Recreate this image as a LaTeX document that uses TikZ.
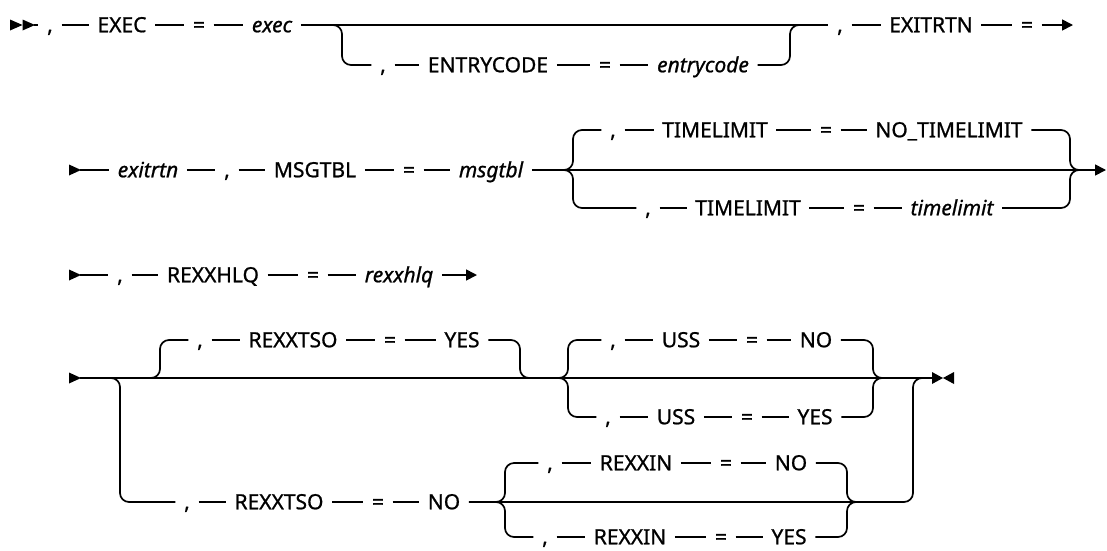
\documentclass[tikz,border=0pt]{standalone}
\usepackage{fontspec}
\setmainfont{Noto Sans}
\newfontfamily\tokfont{Noto Sans}[FakeBold=0.9]
\usetikzlibrary{arrows.meta}
\begin{document}
\begin{tikzpicture}[x=1pt,y=-1pt,
  tok/.style={inner xsep=8.5pt, inner ysep=0pt, text height=14.5pt, text depth=0pt, font=\tokfont\fontsize{21}{24}\selectfont},
  var/.style={tok, font=\tokfont\fontsize{21}{24}\selectfont\itshape},
  ln/.style={line width=1.7pt},
  br/.style={ln, rounded corners=9pt},
  arr/.style={ln, -{Triangle[length=11pt,width=11pt]}},
  ]
\useasboundingbox (0,0) rectangle (1107,550);

% ---------- Row 1 ----------
\fill (10,19.5) -- (22.5,25) -- (10,30.5) -- cycle;
\fill (22.5,19.5) -- (35,25) -- (22.5,30.5) -- cycle;
\coordinate (s1e) at (34,25);
\node[tok] (c1) at (50,25) {,};
\node[tok] (k1) at (122,25) {EXEC};
\node[tok] (e1) at (199,25) {=};
\node[var] (v1) at (272,25) {exec};
\node[tok] (c2) at (383,65) {,};
\node[tok] (k2) at (488,65) {ENTRYCODE};
\node[tok] (e2) at (605,65) {=};
\node[var] (v2) at (703,65) {entrycode};
\node[tok] (c3) at (840,25) {,};
\node[tok] (k3) at (931,25) {EXITRTN};
\node[tok] (e3) at (1027,25) {=};
\coordinate (a1) at (1073,25);
\coordinate (j1) at (320,25);
\coordinate (d1) at (342,65);
\coordinate (u1) at (790,25);
\coordinate (j2) at (812,25);
\draw[ln] (s1e) -- (c1);
\draw[ln] (c1) -- (k1);
\draw[ln] (k1) -- (e1);
\draw[ln] (e1) -- (v1);
\draw[ln] (v1) -- (c3);
\draw[br] (j1) -| (d1) -- (c2);
\draw[ln] (c2) -- (k2);
\draw[ln] (k2) -- (e2);
\draw[ln] (e2) -- (v2);
\draw[br] (v2) -| (u1) -- (j2);
\draw[ln] (c3) -- (k3);
\draw[ln] (k3) -- (e3);
\draw[arr] (e3) -- (a1);

% ---------- Row 2 ----------
\fill (69,164.5) -- (81,170) -- (69,175.5) -- cycle;
\coordinate (s2e) at (80,170);
\node[var] (v3) at (148,170) {exitrtn};
\node[tok] (c4) at (227,170) {,};
\node[tok] (k4) at (315,170) {MSGTBL};
\node[tok] (e4) at (409,170) {=};
\node[var] (v4) at (491,170) {msgtbl};
\node[tok] (c5) at (613,130) {,};
\node[tok] (k5) at (715,130) {TIMELIMIT};
\node[tok] (e5) at (826,130) {=};
\node[tok] (k6) at (949,130) {NO\_TIMELIMIT};
\node[tok] (c6) at (648,208) {,};
\node[tok] (k7) at (748,208) {TIMELIMIT};
\node[tok] (e6) at (859,208) {=};
\node[var] (v5) at (952,208) {timelimit};
\coordinate (a2) at (1106,170);
\coordinate (b2l) at (558,170);
\coordinate (b2t) at (573,130);
\coordinate (b2b) at (573,208);
\coordinate (b2r) at (1070,170);
\coordinate (b2e) at (1086,170);
\draw[ln] (s2e) -- (v3);
\draw[ln] (v3) -- (c4);
\draw[ln] (c4) -- (k4);
\draw[ln] (k4) -- (e4);
\draw[ln] (e4) -- (v4);
\draw[arr] (v4) -- (a2);
\draw[br] (b2l) -| (b2t) -- (c5);
\draw[br] (b2l) -| (b2b) -- (c6);
\draw[ln] (c5) -- (k5);
\draw[ln] (k5) -- (e5);
\draw[ln] (e5) -- (k6);
\draw[br] (k6) -| (b2r) -- (b2e);
\draw[ln] (c6) -- (k7);
\draw[ln] (k7) -- (e6);
\draw[ln] (e6) -- (v5);
\draw[br] (v5) -| (b2r) -- (b2e);

% ---------- Row 3 ----------
\fill (69,269.5) -- (81,275) -- (69,280.5) -- cycle;
\coordinate (s3e) at (80,275);
\node[tok] (c7) at (120,275) {,};
\node[tok] (k8) at (213,275) {REXXHLQ};
\node[tok] (e7) at (313,275) {=};
\node[var] (v6) at (399,275) {rexxhlq};
\coordinate (a3) at (477,275);
\draw[ln] (s3e) -- (c7);
\draw[ln] (c7) -- (k8);
\draw[ln] (k8) -- (e7);
\draw[ln] (e7) -- (v6);
\draw[arr] (v6) -- (a3);

% ---------- Row 4 ----------
\fill (69,372.5) -- (81,378) -- (69,383.5) -- cycle;
\fill (932,372) -- (943,378) -- (932,384) -- cycle;
\fill (954,372) -- (943,378) -- (954,384) -- cycle;
\coordinate (s4e) at (80,378);
\coordinate (end4) at (933,378);
\draw[ln] (s4e) -- (end4);
% REXXTSO = YES (default, above)
\coordinate (m1) at (144,378);
\coordinate (t1) at (160,340);
\coordinate (t2) at (520,378);
\coordinate (m2) at (536,378);
\node[tok] (c8) at (200,340) {,};
\node[tok] (k9) at (293,340) {REXXTSO};
\node[tok] (e8) at (390,340) {=};
\node[tok] (k10) at (462,340) {YES};
\draw[br] (m1) -| (t1) -- (c8);
\draw[ln] (c8) -- (k9);
\draw[ln] (k9) -- (e8);
\draw[ln] (e8) -- (k10);
\draw[br] (k10) -| (t2) -- (m2);
% REXXTSO = NO (below)
\coordinate (m0) at (100,378);
\coordinate (l1) at (120,502);
\coordinate (r2) at (913,378);
\coordinate (m3) at (930,378);
\node[tok] (c9) at (187,502) {,};
\node[tok] (k11) at (279,502) {REXXTSO};
\node[tok] (e9) at (378,502) {=};
\node[tok] (k12) at (444,502) {NO};
\draw[br] (m0) -| (l1) -- (c9);
\draw[ln] (c9) -- (k11);
\draw[ln] (k11) -- (e9);
\draw[ln] (e9) -- (k12);
\draw[br] (k12) -| (r2) -- (m3);
% REXXIN group
\coordinate (b4l) at (490,502);
\coordinate (b4t) at (505,463);
\coordinate (b4b) at (505,537);
\coordinate (b4r) at (847,502);
\coordinate (b4e) at (862,502);
\node[tok] (c10) at (550,463) {,};
\node[tok] (k13) at (636,463) {REXXIN};
\node[tok] (e10) at (726,463) {=};
\node[tok] (k14) at (791,463) {NO};
\node[tok] (c11) at (545,537) {,};
\node[tok] (k15) at (630,537) {REXXIN};
\node[tok] (e11) at (721,537) {=};
\node[tok] (k16) at (789,537) {YES};
\draw[br] (b4l) -| (b4t) -- (c10);
\draw[br] (b4l) -| (b4b) -- (c11);
\draw[ln] (c10) -- (k13);
\draw[ln] (k13) -- (e10);
\draw[ln] (e10) -- (k14);
\draw[br] (k14) -| (b4r) -- (b4e);
\draw[ln] (c11) -- (k15);
\draw[ln] (k15) -- (e11);
\draw[ln] (e11) -- (k16);
\draw[br] (k16) -| (b4r) -- (b4e);
% USS group
\coordinate (b3l) at (552,378);
\coordinate (b3t) at (568,340);
\coordinate (b3b) at (568,417);
\coordinate (b3r) at (873,378);
\coordinate (b3e) at (890,378);
\node[tok] (c12) at (613,340) {,};
\node[tok] (k17) at (681,340) {USS};
\node[tok] (e12) at (752,340) {=};
\node[tok] (k18) at (816,340) {NO};
\node[tok] (c13) at (608,417) {,};
\node[tok] (k19) at (676,417) {USS};
\node[tok] (e13) at (747,417) {=};
\node[tok] (k20) at (815,417) {YES};
\draw[br] (b3l) -| (b3t) -- (c12);
\draw[br] (b3l) -| (b3b) -- (c13);
\draw[ln] (c12) -- (k17);
\draw[ln] (k17) -- (e12);
\draw[ln] (e12) -- (k18);
\draw[br] (k18) -| (b3r) -- (b3e);
\draw[ln] (c13) -- (k19);
\draw[ln] (k19) -- (e13);
\draw[ln] (e13) -- (k20);
\draw[br] (k20) -| (b3r) -- (b3e);
\end{tikzpicture}
\end{document}
